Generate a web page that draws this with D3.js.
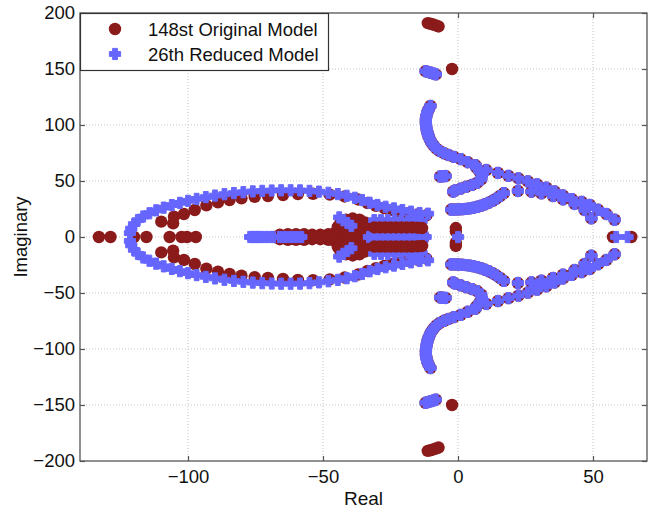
<!DOCTYPE html>
<html>
<head>
<meta charset="utf-8">
<script src="https://cdn.jsdelivr.net/npm/d3@7"></script>
<style>
  body { margin: 0; background: #fff; }
  text { font-family: "Liberation Sans", Arial, Helvetica, sans-serif; fill: #111; }
</style>
</head>
<body>
<svg id="chart" width="653" height="513"></svg>
<script>
// ---- Pole data (real part, imaginary part) ----
// Complex poles are stored once as [re, |im|]; each entry is a conjugate pair.

// 148th-order original model: poles on the real axis
const originalRealPoles = [
  -133, -128.7, -120, -115.4, -106.8, -102.4, -100.4, -97.1,
  -68, -66.5, -65, -63.4, -62, -60.5, -59, -57.6, -56, -54.5, -53, -51.6,
  -50, -48.5, -47, -45.5, -44, -42.6, -41, -39.5, -38, -36.6, -35, -33.5,
  -32, -30.6, -29, -27.5, -26, -24.6, -23, -21.5, -20, -18.6, -17, -15.5,
  -14, -12.6, 57.4, 64.2
];

// 148th-order original model: complex conjugate pairs
const originalPolePairs = [
  [-109.9, 13.7], [-105.5, 12.2], [-105.2, 18.1],
  [-101.5, 20.5], [-97.5, 24.1], [-93.2, 28.2], [-88.9, 31], [-84.6, 33],
  [-80.2, 34.5], [-75.3, 35.8], [-70.4, 36.6], [-64.8, 37.5], [-59.3, 38.3],
  [-53.7, 38.6], [-47.5, 37.8], [-42, 36.2], [-37, 33.5], [-33.5, 30.3],
  [-30.4, 27.8], [-27.3, 25.8], [-24.3, 24], [-21.3, 22.5], [-18.3, 21.2],
  [-15, 20.2], [-11.7, 19.4],
  [-66, 2], [-63, 2.5], [-60, 2.5], [-57, 2.5], [-54, 2], [-51, 2], [-48, 2.5], [-46, 3],
  [-45, 5], [-44.5, 9], [-43.5, 13], [-41.5, 15.5], [-39, 16.5], [-36.5, 15.5],
  [-34.5, 13], [-33, 9.5], [-32.5, 5.5], [-40.5, 5], [-37, 5], [-40.5, 10.5], [-37, 10.5],
  [-35, 8], [-34, 4],
  [-11.2, 191], [-10.2, 190.4], [-9.2, 189.7], [-8.2, 188.9], [-7.2, 188],
  [-2.2, 150], [-0.8, 5], [-0.8, 8]
];

// 148th-order original model: dense cluster just left of the imaginary axis
const originalClusterPairs = [
  [-31, 8.5], [-29, 8.5], [-27, 8.5], [-25, 8.5], [-23, 8.5], [-21, 8.5],
  [-19, 8.5], [-17, 8.5], [-15, 8.3], [-13.3, 8]
];

// 26th-order reduced model: poles on the real axis
const reducedRealPoles = [
  -77, -76, -75, -74, -73, -71.5, -70, -68.5, -66, -64, -62, -60, -58,
  -33, -31, -29, -27, -25, -23, -21, -19, -17, -15, -13, -12,
  0, 58.6, 62.8
];

// 26th-order reduced model: complex conjugate pairs
const reducedPolePairs = [
  [-121.5, 3.5], [-121, 7.5], [-120, 11.5], [-118.6, 15], [-116.6, 18.3],
  [-114.3, 21.2], [-111.8, 23.8], [-109, 26.2], [-106, 28.5], [-103, 30.5],
  [-100, 32.3], [-96.8, 34], [-93.4, 35.6], [-90, 37], [-86.5, 38.2],
  [-83, 39.2], [-79.5, 40], [-76, 40.7], [-72.5, 41.2], [-69, 41.5],
  [-65.5, 41.7], [-62, 41.7], [-58.5, 41.6], [-55, 41.2], [-51.5, 40.5],
  [-48, 39.5], [-44.5, 38.3], [-41.2, 36.8], [-38.2, 35], [-35.5, 33],
  [-32.7, 30.6], [-29.8, 28.6], [-26.8, 27], [-23.7, 25.5], [-20.6, 24],
  [-17.4, 22.6], [-14.2, 21.4], [-11.1, 20.8],
  [-44, 17.5], [-42.5, 15], [-41, 12.5], [-39.5, 10],
  [-31, 15], [-28.5, 15], [-26, 15], [-23.5, 14.8], [-21, 14.6],
  [-18.5, 14.4], [-16, 14.2], [-13.5, 14]
];

// Lightly damped loci where both models place their poles
const sharedPolePairs = [
  [-12, 148], [-11, 147.3], [-10, 146.6], [-9, 145.9], [-8.2, 145.2],
  [-6.6, 54], [-5.6, 54.2], [-4.6, 54.4],
  [-10.2, 117], [-10.9, 114], [-11.4, 111], [-11.7, 108], [-11.9, 105],
  [-11.9, 102], [-11.8, 99], [-11.6, 96], [-11.3, 93], [-10.9, 90],
  [-10.4, 87], [-9.8, 84.2], [-9, 81.5], [-8, 79], [-6.8, 76.8], [-5.2, 74.8],
  [-3.5, 73.2], [-1.5, 71.5], [1, 69.5], [3.6, 66.8], [6.5, 64], [10.5, 59.8],
  [14.8, 57.2], [18.7, 54.6], [22.4, 52.3], [25.9, 49.6], [29.3, 47],
  [32.7, 44], [35.8, 40.6], [38.9, 37], [42.2, 33.8], [45.8, 31.4],
  [48.8, 28.6], [51.9, 24.3], [55, 20.5], [58, 15.4],
  [6.8, 62], [8, 58.5], [8.8, 55], [8.6, 51.5], [7.2, 48.5], [5.2, 46.5],
  [3, 44.8], [1, 43.2], [-1, 41.6], [-1.8, 40.6],
  [-2.5, 24.5], [-1.2, 24.5], [0.2, 24.6], [1.6, 24.8], [3, 25.1], [4.4, 25.6],
  [5.8, 26.2], [7.2, 27], [8.6, 28], [10, 29.2], [11.4, 30.6], [12.8, 32.3],
  [14.2, 34.3], [15.6, 36.6], [17, 39.2],
  [22.2, 41.1], [27.2, 40.5], [30.9, 39], [35.2, 36.6], [38.9, 33.6],
  [43.2, 29.5], [46.9, 24.1], [49.4, 16.7]
];

const xTicks = [-100, -50, 0, 50];
const yTicks = [-200, -150, -100, -50, 0, 50, 100, 150, 200];
const seriesNames = ["148st Original Model", "26th Reduced Model"];

// ---- Layout ----
const svg = d3.select("#chart");
const x = d3.scaleLinear().domain([-140, 70]).range([80, 647]);
const y = d3.scaleLinear().domain([-200, 200]).range([461, 13]);

const redColor = "#8b1a1a";
const blueColor = "#6666ff";

function expand(realPoles, pairs) {
  const pts = realPoles.map(r => ({ re: r, im: 0 }));
  pairs.forEach(([re, im]) => {
    pts.push({ re, im });
    pts.push({ re, im: -im });
  });
  return pts;
}

const originalPoles = expand(originalRealPoles, originalPolePairs.concat(sharedPolePairs));
const originalCluster = expand([], originalClusterPairs);
const reducedPoles = expand(reducedRealPoles, reducedPolePairs.concat(sharedPolePairs));

// Dotted grid
const grid = svg.append("g");
grid.selectAll("line.gx").data(xTicks).join("line")
  .attr("x1", d => x(d)).attr("x2", d => x(d))
  .attr("y1", y(200)).attr("y2", y(-200))
  .attr("stroke", "#c4c4c4").attr("stroke-dasharray", "1,2");
grid.selectAll("line.gy").data(yTicks.slice(1, -1)).join("line")
  .attr("y1", d => y(d)).attr("y2", d => y(d))
  .attr("x1", x(-140)).attr("x2", x(70))
  .attr("stroke", "#c4c4c4").attr("stroke-dasharray", "1,2");

// Marker shapes: filled circle and a thick filled plus
const circleSym = d3.symbol().type(d3.symbolCircle).size(Math.PI * 6.2 * 6.2);
const plusSym = (() => {
  const h = 5.6, a = 2.4;
  return `M${-a},${-h}H${a}V${-a}H${h}V${a}H${a}V${h}H${-a}V${a}H${-h}V${-a}H${-a}Z`;
})();

function drawCircles(data) {
  svg.append("g").selectAll("path").data(data).join("path")
    .attr("d", circleSym)
    .attr("transform", d => `translate(${x(d.re)},${y(d.im)})`)
    .attr("fill", redColor);
}

drawCircles(originalPoles);

svg.append("g").selectAll("path").data(reducedPoles).join("path")
  .attr("d", plusSym)
  .attr("transform", d => `translate(${x(d.re)},${y(d.im)})`)
  .attr("fill", blueColor)
  .attr("stroke", blueColor).attr("stroke-width", 1).attr("stroke-linejoin", "round");

drawCircles(originalCluster);

// Axes with inward ticks on all four sides
const axisColor = "#555";
const fontSize = "18.5px";

const gB = svg.append("g").attr("transform", `translate(0,${y(-200)})`)
  .call(d3.axisBottom(x).tickValues(xTicks).tickSizeInner(-5).tickSizeOuter(0).tickPadding(9));
const gT = svg.append("g").attr("transform", `translate(0,${y(200)})`)
  .call(d3.axisTop(x).tickValues(xTicks).tickSizeInner(-5).tickSizeOuter(0).tickFormat(""));
const gL = svg.append("g").attr("transform", `translate(${x(-140)},0)`)
  .call(d3.axisLeft(y).tickValues(yTicks).tickSizeInner(-5).tickSizeOuter(0).tickPadding(5));
const gR = svg.append("g").attr("transform", `translate(${x(70)},0)`)
  .call(d3.axisRight(y).tickValues(yTicks).tickSizeInner(-5).tickSizeOuter(0).tickFormat(""));

[gB, gT, gL, gR].forEach(g => {
  g.select(".domain").remove();
  g.selectAll(".tick line").attr("stroke", axisColor).attr("stroke-width", 1.2);
  g.selectAll(".tick text").attr("font-size", fontSize).attr("fill", "#111")
    .attr("font-family", '"Liberation Sans", Arial, sans-serif');
});

// Axes frame
svg.append("rect")
  .attr("x", x(-140)).attr("y", y(200))
  .attr("width", x(70) - x(-140)).attr("height", y(-200) - y(200))
  .attr("fill", "none").attr("stroke", axisColor).attr("stroke-width", 1.3);

// Axis titles
svg.append("text").attr("x", (x(-140) + x(70)) / 2).attr("y", 505)
  .attr("text-anchor", "middle").attr("font-size", "19px").text("Real");
svg.append("text")
  .attr("transform", `translate(27,${(y(200) + y(-200)) / 2}) rotate(-90)`)
  .attr("text-anchor", "middle").attr("font-size", "18.5px").text("Imaginary");

// Legend
const lg = svg.append("g");
lg.append("rect").attr("x", 80.5).attr("y", 13.5).attr("width", 248).attr("height", 57)
  .attr("fill", "#fff").attr("stroke", "#333").attr("stroke-width", 1.2);
lg.append("path").attr("d", circleSym).attr("transform", "translate(115,29)").attr("fill", redColor);
lg.append("path").attr("d", plusSym).attr("transform", "translate(115,54)")
  .attr("fill", blueColor).attr("stroke", blueColor).attr("stroke-width", 1).attr("stroke-linejoin", "round");
lg.selectAll("text").data(seriesNames).join("text")
  .attr("x", 148).attr("y", (d, i) => 36 + i * 25)
  .attr("font-size", fontSize).text(d => d);
</script>
</body>
</html>
